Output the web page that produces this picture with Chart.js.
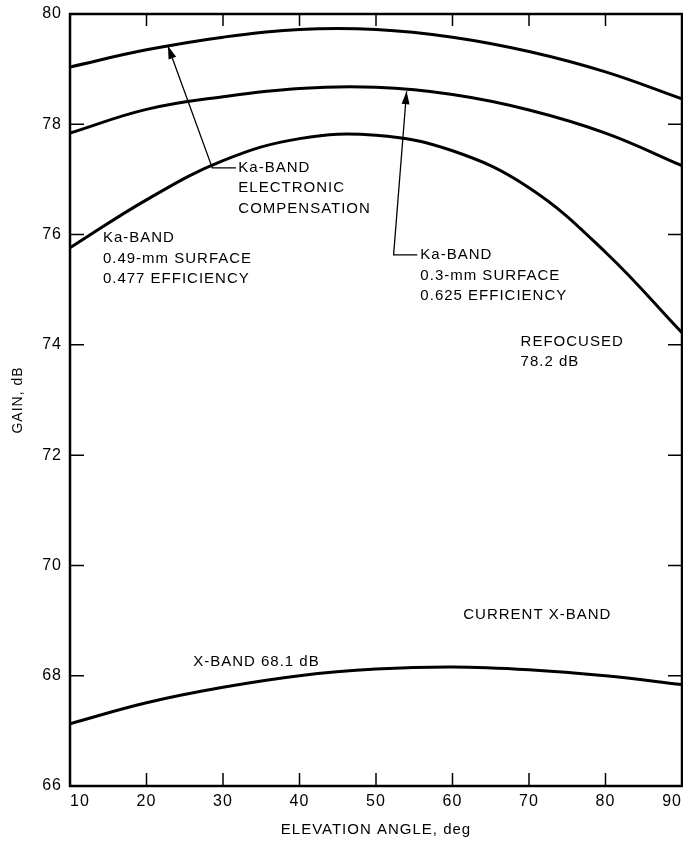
<!DOCTYPE html>
<html>
<head>
<meta charset="utf-8">
<script src="https://cdn.jsdelivr.net/npm/chart.js@4.4.0/dist/chart.umd.min.js"></script>
<style>
  body { margin: 0; background: #fff; }
  canvas { display: block; }
</style>
</head>
<body>
<canvas id="gainChart" width="683" height="842"></canvas>
<script>
const angles = [10, 20, 30, 40, 50, 60, 70, 80, 90];
const kaElectronic = [79.04, 79.35, 79.58, 79.72, 79.72, 79.58, 79.32, 78.95, 78.46];
const ka03mm = [77.84, 78.27, 78.50, 78.65, 78.67, 78.54, 78.26, 77.84, 77.25];
const ka049mm = [75.76, 76.63, 77.34, 77.74, 77.80, 77.52, 76.85, 75.68, 74.22];
const xBand = [67.13, 67.51, 67.79, 68.00, 68.12, 68.16, 68.11, 68.00, 67.84];

const angleTicks = [10, 20, 30, 40, 50, 60, 70, 80, 90];
const gainTicks = [66, 68, 70, 72, 74, 76, 78, 80];

// text labels, anchored in data units (left edge, middle of first line)
const notes = [
    { x: 32.0, y: 77.21, lines: ["Ka-BAND", "ELECTRONIC", "COMPENSATION"] },
    { x: 14.3, y: 75.94, lines: ["Ka-BAND", "0.49-mm SURFACE", "0.477 EFFICIENCY"] },
    { x: 55.8, y: 75.63, lines: ["Ka-BAND", "0.3-mm SURFACE", "0.625 EFFICIENCY"] },
    { x: 68.9, y: 74.06, lines: ["REFOCUSED", "78.2 dB"] },
    { x: 61.4, y: 69.11, lines: ["CURRENT X-BAND"] },
    { x: 26.1, y: 68.26, lines: ["X-BAND 68.1 dB"] },
];

// leader lines with arrow heads
const leaders = [
    { start: [31.7, 77.21], bend: [28.6, 77.21], tip: [22.8, 79.42] },
    { start: [55.4, 75.63], bend: [52.3, 75.63], tip: [54.0, 78.6] },
];

const FONT = '"Liberation Sans", Arial, Helvetica, sans-serif';
Chart.defaults.font.family = FONT;
Chart.defaults.color = "#000";

const toPoints = (ys) => angles.map((a, i) => ({ x: a, y: ys[i] }));

const frame = {
    id: "frame",
    beforeDraw(chart) {
        chart.ctx.letterSpacing = "1px";
    },
    afterDraw(chart) {
        const { ctx, chartArea: a, scales: { x, y } } = chart;
        ctx.save();
        ctx.strokeStyle = "#000";
        ctx.fillStyle = "#000";

        // box
        ctx.lineWidth = 2.5;
        ctx.strokeRect(a.left, a.top, a.right - a.left, a.bottom - a.top);

        // inward ticks
        ctx.lineWidth = 1.5;
        ctx.beginPath();
        angleTicks.slice(1, -1).forEach((v) => {
            const px = x.getPixelForValue(v);
            ctx.moveTo(px, a.bottom);
            ctx.lineTo(px, a.bottom - 13);
            ctx.moveTo(px, a.top);
            ctx.lineTo(px, a.top + 12);
        });
        gainTicks.slice(1, -1).forEach((v) => {
            const py = y.getPixelForValue(v);
            ctx.moveTo(a.left, py);
            ctx.lineTo(a.left + 14, py);
            ctx.moveTo(a.right, py);
            ctx.lineTo(a.right - 14, py);
        });
        ctx.stroke();

        // leaders
        ctx.lineWidth = 1.3;
        leaders.forEach((l) => {
            const s = [x.getPixelForValue(l.start[0]), y.getPixelForValue(l.start[1])];
            const b = [x.getPixelForValue(l.bend[0]), y.getPixelForValue(l.bend[1])];
            const t = [x.getPixelForValue(l.tip[0]), y.getPixelForValue(l.tip[1])];
            ctx.beginPath();
            ctx.moveTo(s[0], s[1]);
            ctx.lineTo(b[0], b[1]);
            ctx.lineTo(t[0], t[1]);
            ctx.stroke();
            const ang = Math.atan2(t[1] - b[1], t[0] - b[0]);
            ctx.beginPath();
            ctx.moveTo(t[0], t[1]);
            ctx.lineTo(t[0] - 13 * Math.cos(ang) + 4 * Math.sin(ang), t[1] - 13 * Math.sin(ang) - 4 * Math.cos(ang));
            ctx.lineTo(t[0] - 13 * Math.cos(ang) - 4 * Math.sin(ang), t[1] - 13 * Math.sin(ang) + 4 * Math.cos(ang));
            ctx.closePath();
            ctx.fill();
        });

        // notes
        ctx.font = "15px " + FONT;
        ctx.letterSpacing = "1px";
        ctx.textAlign = "left";
        ctx.textBaseline = "middle";
        notes.forEach((n) => {
            const px = x.getPixelForValue(n.x);
            const py = y.getPixelForValue(n.y);
            n.lines.forEach((t, i) => ctx.fillText(t, px, py + i * 20.5));
        });
        ctx.restore();
    },
};

const ctx = document.getElementById("gainChart").getContext("2d");
new Chart(ctx, {
    type: "line",
    data: {
        datasets: [kaElectronic, ka03mm, ka049mm, xBand].map((s) => ({
            data: toPoints(s),
            borderColor: "#000",
            borderWidth: 3,
            pointRadius: 0,
            fill: false,
            tension: 0.4,
        })),
    },
    options: {
        responsive: false,
        animation: false,
        layout: { padding: { top: 14, right: 1, left: 0, bottom: 0 } },
        plugins: { legend: { display: false }, tooltip: { enabled: false } },
        scales: {
            x: {
                type: "linear",
                min: 10,
                max: 90,
                afterFit: (s) => {
                    s.height = 56;
                    s.paddingLeft = 0;
                    s.paddingRight = 0;
                },
                afterBuildTicks: (s) => { s.ticks = angleTicks.map((v) => ({ value: v })); },
                grid: { display: false, drawTicks: false },
                border: { display: false },
                ticks: { color: "#000", font: { size: 16 }, padding: 6, maxRotation: 0, align: "inner" },
                title: {
                    display: true,
                    text: "ELEVATION ANGLE, deg",
                    color: "#000",
                    font: { size: 15 },
                    padding: { top: 0, bottom: 3 },
                },
            },
            y: {
                min: 66,
                max: 80,
                afterFit: (s) => {
                    s.width = 70;
                    s.paddingTop = 0;
                    s.paddingBottom = 0;
                },
                afterBuildTicks: (s) => { s.ticks = gainTicks.map((v) => ({ value: v })); },
                grid: { display: false, drawTicks: false },
                border: { display: false },
                ticks: { color: "#000", font: { size: 16 }, padding: 8 },
                title: {
                    display: true,
                    text: "GAIN, dB",
                    color: "#000",
                    font: { size: 14 },
                    padding: { top: 10, bottom: 0 },
                },
            },
        },
    },
    plugins: [frame],
});
</script>
</body>
</html>
